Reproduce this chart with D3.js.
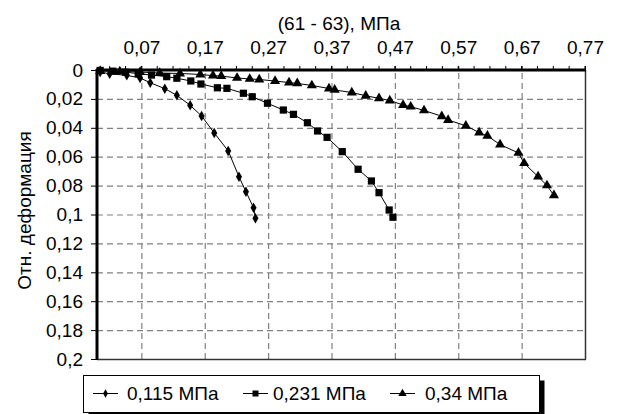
<!DOCTYPE html>
<html>
<head>
<meta charset="utf-8">
<script src="https://cdn.jsdelivr.net/npm/d3@7"></script>
<style>
  html, body { margin: 0; padding: 0; background: #fff; }
  svg { display: block; font-family: "Liberation Sans", Arial, sans-serif; }
</style>
</head>
<body>
<svg id="chart" width="619" height="414"></svg>
<script>
// ---- data ----
const xTicks = [0.07, 0.17, 0.27, 0.37, 0.47, 0.57, 0.67, 0.77];
const yTicks = [0, 0.02, 0.04, 0.06, 0.08, 0.1, 0.12, 0.14, 0.16, 0.18, 0.2];
const seriesNames = ["0,115 МПа", "0,231 МПа", "0,34 МПа"];
const titleText = "(61 - 63), МПа";
const yTitle = "Отн. деформация";

const s1x = [0.005, 0.02, 0.047, 0.068, 0.084, 0.107, 0.126, 0.147, 0.165, 0.185, 0.207, 0.224, 0.235, 0.247, 0.250];
const s1y = [0.0014, 0.0026, 0.0037, 0.0055, 0.0088, 0.0129, 0.0175, 0.0244, 0.0318, 0.0436, 0.056, 0.0738, 0.0842, 0.0953, 0.1026];

const s2x = [0.005, 0.025, 0.045, 0.065, 0.086, 0.110, 0.126, 0.148, 0.164, 0.190, 0.205, 0.231, 0.245, 0.269, 0.294, 0.310, 0.332, 0.348, 0.363, 0.387, 0.412, 0.433, 0.445, 0.461, 0.467];
const s2y = [0.0003, 0.0008, 0.0015, 0.0025, 0.0035, 0.0046, 0.0057, 0.0076, 0.0097, 0.0123, 0.0127, 0.0161, 0.0185, 0.0230, 0.0277, 0.0307, 0.0365, 0.0422, 0.0466, 0.0565, 0.0687, 0.0768, 0.0849, 0.0969, 0.1019];

const s3x = [0.005, 0.036, 0.068, 0.099, 0.131, 0.163, 0.183, 0.196, 0.221, 0.241, 0.256, 0.281, 0.303, 0.316, 0.339, 0.366, 0.375, 0.402, 0.424, 0.445, 0.462, 0.483, 0.495, 0.516, 0.544, 0.554, 0.582, 0.603, 0.616, 0.636, 0.665, 0.674, 0.696, 0.710, 0.721];
const s3y = [0.0007, 0.0010, 0.0014, 0.0021, 0.0024, 0.0031, 0.0039, 0.0042, 0.0055, 0.0062, 0.0066, 0.0076, 0.0087, 0.0093, 0.0107, 0.0128, 0.0138, 0.0156, 0.0178, 0.0196, 0.0211, 0.0242, 0.0254, 0.0280, 0.0320, 0.0346, 0.0386, 0.0433, 0.0456, 0.0516, 0.0574, 0.0645, 0.0738, 0.0799, 0.0868];

// ---- layout ----
const svg = d3.select("#chart");
const L = 97, R = 585, T = 70, B = 359;
const FS = 19;
const FF = "Liberation Sans, Arial, sans-serif";
const fmt = v => String(+v.toFixed(3)).replace(".", ",");

const x = d3.scaleLinear().domain([0, 0.77]).range([L, R]);
const y = d3.scaleLinear().domain([0, 0.2]).range([T, B]);

// gridlines (via axes with long ticks)
const gridX = svg.append("g").attr("transform", `translate(0,${B})`)
  .call(d3.axisTop(x).tickValues(xTicks.slice(0, -1)).tickSize(B - T).tickFormat(""));
gridX.select(".domain").remove();
gridX.selectAll(".tick line").attr("stroke", "#808080").attr("stroke-width", 1.2).attr("stroke-dasharray", "6,4");
const gridY = svg.append("g").attr("transform", `translate(${L},0)`)
  .call(d3.axisRight(y).tickValues(yTicks.slice(1, -1)).tickSize(R - L).tickFormat(""));
gridY.select(".domain").remove();
gridY.selectAll(".tick line").attr("stroke", "#808080").attr("stroke-width", 1.2).attr("stroke-dasharray", "6,4");

// plot border (right & bottom)
svg.append("line").attr("x1", R + 0.5).attr("x2", R + 0.5).attr("y1", T).attr("y2", B + 0.5).attr("stroke", "#333").attr("stroke-width", 1.5);
svg.append("line").attr("x1", L).attr("x2", R + 1).attr("y1", B + 0.5).attr("y2", B + 0.5).attr("stroke", "#333").attr("stroke-width", 1.5);

// minor ticks top
const minor = d3.range(0.02, 0.771, 0.025);
svg.append("g").selectAll("line").data(minor).join("line")
  .attr("x1", d => x(d)).attr("x2", d => x(d)).attr("y1", T - 4).attr("y2", T)
  .attr("stroke", "#000").attr("stroke-width", 1);

// top axis
const xAxis = d3.axisTop(x).tickValues(xTicks).tickFormat(fmt).tickSize(4).tickPadding(12);
const gx = svg.append("g").attr("transform", `translate(0,${T})`).call(xAxis);
gx.select(".domain").remove();
gx.selectAll("text").attr("font-size", FS).attr("font-family", FF).attr("fill", "#000");

// left axis
const yAxis = d3.axisLeft(y).tickValues(yTicks).tickFormat(fmt).tickSize(6).tickPadding(8);
const gy = svg.append("g").attr("transform", `translate(${L},0)`).call(yAxis);
gy.select(".domain").remove();
gy.selectAll("text").attr("font-size", FS).attr("font-family", FF).attr("fill", "#000");

// series
const series = [
  { xs: s1x, ys: s1y, sym: d3.symbolDiamond, size: 32 },
  { xs: s2x, ys: s2y, sym: d3.symbolSquare, size: 52 },
  { xs: s3x, ys: s3y, sym: d3.symbolTriangle, size: 44 }
];
const line = d3.line().x(d => x(d[0])).y(d => y(d[1]));
series.forEach(s => {
  const pts = s.xs.map((v, i) => [v, s.ys[i]]);
  svg.append("path").datum(pts).attr("d", line).attr("fill", "none").attr("stroke", "#000").attr("stroke-width", 1);
  svg.append("g").selectAll("path").data(pts).join("path")
    .attr("transform", d => `translate(${x(d[0])},${y(d[1])})`)
    .attr("d", d3.symbol().type(s.sym).size(s.size)).attr("fill", "#000");
});

// axis lines (thick, on top)
svg.append("line").attr("x1", L - 1).attr("x2", R + 1).attr("y1", T).attr("y2", T).attr("stroke", "#000").attr("stroke-width", 3);
svg.append("line").attr("x1", L).attr("x2", L).attr("y1", T - 1).attr("y2", B + 1).attr("stroke", "#000").attr("stroke-width", 3);

// titles
svg.append("text").attr("x", (L + R) / 2 - 2).attr("y", 30).attr("text-anchor", "middle")
  .attr("font-size", FS).attr("font-family", FF).text(titleText);
svg.append("text").attr("transform", `translate(31,${(T + B) / 2 - 4}) rotate(-90)`).attr("text-anchor", "middle")
  .attr("font-size", FS).attr("font-family", FF).text(yTitle);

// legend
const lg = svg.append("g");
lg.append("rect").attr("x", 88.5).attr("y", 380.5).attr("width", 456).attr("height", 37).attr("fill", "#000");
lg.append("rect").attr("x", 83.5).attr("y", 375.5).attr("width", 456).attr("height", 37).attr("fill", "#fff").attr("stroke", "#000").attr("stroke-width", 1);
const legX = [93, 243, 390];
const legTextX = [127, 273, 425];
const legSize = [20, 36, 30];
series.forEach((s, i) => {
  const cy = 393.5;
  lg.append("line").attr("x1", legX[i]).attr("x2", legX[i] + 25).attr("y1", cy).attr("y2", cy).attr("stroke", "#000").attr("stroke-width", 1);
  lg.append("path").attr("transform", `translate(${legX[i] + 12.5},${cy})`)
    .attr("d", d3.symbol().type(s.sym).size(legSize[i])).attr("fill", "#000");
  lg.append("text").attr("x", legTextX[i]).attr("y", cy).attr("dy", "0.35em").attr("font-size", FS).attr("font-family", FF).text(seriesNames[i]);
});
</script>
</body>
</html>
